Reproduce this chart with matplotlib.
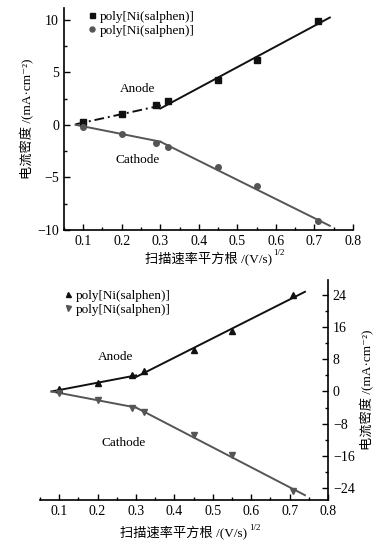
import matplotlib
matplotlib.use("Agg")
import matplotlib.pyplot as plt
from matplotlib.ticker import MultipleLocator

plt.rcParams['font.family'] = ['Liberation Serif', 'Noto Sans CJK SC', 'DejaVu Serif']

# ---------- data ----------
scan_rate_sqrt = [0.10, 0.20, 0.29, 0.32, 0.45, 0.55, 0.71]

# top panel (mA cm^-2)
top_anode = [0.30, 1.00, 1.85, 2.25, 4.30, 6.20, 9.85]
top_cathode = [-0.20, -0.90, -1.70, -2.10, -4.00, -5.85, -9.15]
top_anode_fit1_x = [0.08, 0.31]
top_anode_fit1_y = [0.05, 1.90]
top_anode_fit2_x = [0.30, 0.74]
top_anode_fit2_y = [1.55, 10.20]
top_cathode_fit1_x = [0.08, 0.30]
top_cathode_fit1_y = [0.00, -1.60]
top_cathode_fit2_x = [0.30, 0.74]
top_cathode_fit2_y = [-1.60, -9.60]

# bottom panel
bot_anode = [0.6, 2.0, 4.1, 5.1, 10.3, 15.1, 24.0]
bot_cathode = [-0.5, -2.1, -4.2, -5.2, -10.8, -15.7, -24.7]
bot_anode_fit1_x = [0.08, 0.30]
bot_anode_fit1_y = [0.0, 4.0]
bot_anode_fit2_x = [0.30, 0.74]
bot_anode_fit2_y = [3.6, 24.8]
bot_cathode_fit1_x = [0.08, 0.30]
bot_cathode_fit1_y = [0.0, -4.0]
bot_cathode_fit2_x = [0.30, 0.74]
bot_cathode_fit2_y = [-4.0, -25.8]

top_xticks = [0.1, 0.2, 0.3, 0.4, 0.5, 0.6, 0.7, 0.8]
top_yticks = [-10, -5, 0, 5, 10]
bot_yticks = [-24, -16, -8, 0, 8, 16, 24]

legend_label = "poly[Ni(salphen)]"
xlabel = "扫描速率平方根 /(V/s)"
xlabel_sup = "1/2"
ylabel = "电流密度 /(mA·cm⁻²)"

BLACK = "#111111"
GRAY = "#555555"
FS = 10
LFS = 9.5


def fmt(v):
    return str(v).replace("-", "−")


fig = plt.figure(figsize=(3.9, 5.47), dpi=100)


def style(ax, side):
    for s in ['top', 'left', 'right']:
        ax.spines[s].set_visible(False)
    ax.spines['bottom'].set_linewidth(1.2)
    ax.spines[side].set_visible(True)
    ax.spines[side].set_linewidth(1.2)
    ax.tick_params(which='both', direction='in', labelsize=FS, width=1.0)
    ax.tick_params(which='major', length=4)
    ax.tick_params(which='minor', length=2.5)


def add_xlabel(ax, pad):
    ax.set_xlabel(xlabel, fontsize=LFS, labelpad=pad)
    lab = ax.xaxis.label
    ax.annotate(xlabel_sup, xy=(1.0, 0.9), xycoords=lab, fontsize=6.5,
                ha='left', va='center', xytext=(1, 0), textcoords='offset points')


# ---------- top panel ----------
ax1 = fig.add_axes([0.164, 0.5795, 0.741, 0.4058])
ax1.plot(top_anode_fit1_x, top_anode_fit1_y, color=BLACK, lw=1.4, ls=(0, (5, 2, 1, 2)))
ax1.plot(top_anode_fit2_x, top_anode_fit2_y, color=BLACK, lw=1.4)
ax1.plot(top_cathode_fit1_x, top_cathode_fit1_y, color=GRAY, lw=1.4)
ax1.plot(top_cathode_fit2_x, top_cathode_fit2_y, color=GRAY, lw=1.4)
ax1.plot(scan_rate_sqrt, top_anode, ls='none', marker='s', ms=4, color=BLACK, label=legend_label)
ax1.plot(scan_rate_sqrt, top_cathode, ls='none', marker='o', ms=4, color=GRAY, label=legend_label)
ax1.set_xlim(0.05, 0.8)
ax1.set_ylim(-10, 11.1)
ax1.set_xticks(top_xticks)
ax1.set_xticklabels([str(v) for v in top_xticks])
ax1.xaxis.set_minor_locator(MultipleLocator(0.05))
ax1.set_yticks(top_yticks)
ax1.set_yticklabels([fmt(v) for v in top_yticks])
ax1.yaxis.set_minor_locator(MultipleLocator(2.5))
style(ax1, 'left')
add_xlabel(ax1, 3)
ax1.set_ylabel(ylabel, fontsize=LFS, labelpad=2)
ax1.text(0.24, 3.4, "Anode", fontsize=LFS, ha='center', va='center')
ax1.text(0.24, -3.35, "Cathode", fontsize=LFS, ha='center', va='center')
ax1.legend(loc='upper left', bbox_to_anchor=(0.05, 1.03), frameon=False, fontsize=LFS,
           handlelength=0.6, handletextpad=0.3, labelspacing=0.15, borderpad=0.2, markerscale=0.9)

# ---------- bottom panel ----------
ax2 = fig.add_axes([0.1026, 0.0859, 0.7384, 0.402])
ax2.plot(bot_anode_fit1_x, bot_anode_fit1_y, color=BLACK, lw=1.4)
ax2.plot(bot_anode_fit2_x, bot_anode_fit2_y, color=BLACK, lw=1.4)
ax2.plot(bot_cathode_fit1_x, bot_cathode_fit1_y, color=GRAY, lw=1.4)
ax2.plot(bot_cathode_fit2_x, bot_cathode_fit2_y, color=GRAY, lw=1.4)
ax2.plot(scan_rate_sqrt, bot_anode, ls='none', marker='^', ms=4.5, color=BLACK, label=legend_label)
ax2.plot(scan_rate_sqrt, bot_cathode, ls='none', marker='v', ms=4.5, color=GRAY, label=legend_label)
ax2.set_xlim(0.05, 0.8)
ax2.set_ylim(-27, 27.7)
ax2.set_xticks(top_xticks)
ax2.set_xticklabels([str(v) for v in top_xticks])
ax2.xaxis.set_minor_locator(MultipleLocator(0.05))
ax2.set_yticks(bot_yticks)
ax2.set_yticklabels([fmt(v) for v in bot_yticks])
ax2.yaxis.set_minor_locator(MultipleLocator(4))
ax2.yaxis.tick_right()
ax2.yaxis.set_label_position('right')
style(ax2, 'right')
add_xlabel(ax2, 6)
ax2.set_ylabel(ylabel, fontsize=LFS, labelpad=4, rotation=90)
ax2.text(0.248, 8.6, "Anode", fontsize=LFS, ha='center', va='center')
ax2.text(0.269, -12.8, "Cathode", fontsize=LFS, ha='center', va='center')
ax2.legend(loc='upper left', bbox_to_anchor=(0.05, 1.0), frameon=False, fontsize=LFS,
           handlelength=0.6, handletextpad=0.3, labelspacing=0.15, borderpad=0.2, markerscale=0.8)

fig.savefig("out.png", dpi=100)
